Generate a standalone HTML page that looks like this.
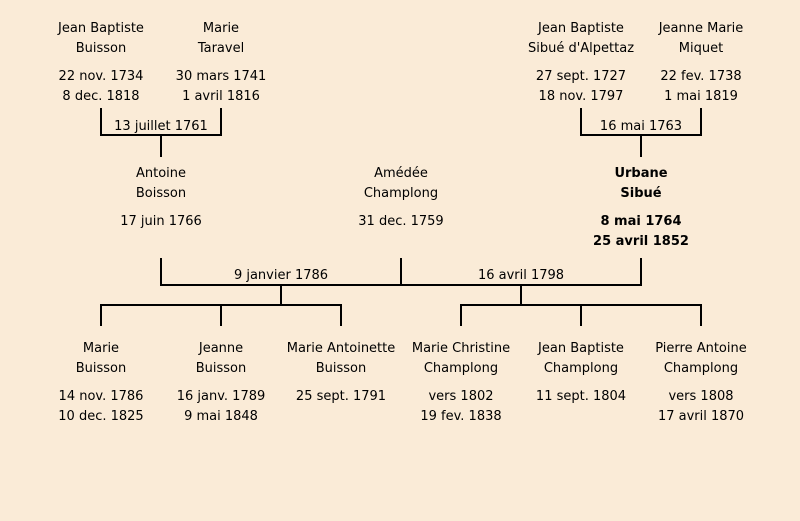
<!DOCTYPE html>
<html>
<head>
<meta charset="utf-8">
<style>
  html, body { margin:0; padding:0; background:#FAEBD7; }
  svg { display:block; }
  text { font-family: "DejaVu Sans", "Liberation Sans", sans-serif; font-size:13px; fill:#000; text-anchor:middle; }
  .b { font-weight:bold; }
</style>
</head>
<body>
<svg width="800" height="521" viewBox="0 0 800 521" xmlns="http://www.w3.org/2000/svg">
  <rect x="0" y="0" width="800" height="521" fill="#FAEBD7"/>
  <g fill="#000">
    <rect x="100" y="108" width="2" height="28"/>
    <rect x="220" y="108" width="2" height="28"/>
    <rect x="100" y="134" width="122" height="2"/>
    <rect x="160" y="136" width="2" height="21"/>
    <rect x="580" y="108" width="2" height="28"/>
    <rect x="700" y="108" width="2" height="28"/>
    <rect x="580" y="134" width="122" height="2"/>
    <rect x="640" y="136" width="2" height="21"/>
    <rect x="160" y="258" width="2" height="28"/>
    <rect x="400" y="258" width="2" height="28"/>
    <rect x="640" y="258" width="2" height="28"/>
    <rect x="160" y="284" width="482" height="2"/>
    <rect x="280" y="286" width="2" height="20"/>
    <rect x="520" y="286" width="2" height="20"/>
    <rect x="100" y="304" width="242" height="2"/>
    <rect x="460" y="304" width="242" height="2"/>
    <rect x="100" y="306" width="2" height="20"/>
    <rect x="220" y="306" width="2" height="20"/>
    <rect x="340" y="306" width="2" height="20"/>
    <rect x="460" y="306" width="2" height="20"/>
    <rect x="580" y="306" width="2" height="20"/>
    <rect x="700" y="306" width="2" height="20"/>
  </g>

  <text x="101" y="32">Jean Baptiste</text>
  <text x="101" y="52">Buisson</text>
  <text x="101" y="80">22 nov. 1734</text>
  <text x="101" y="100">8 dec. 1818</text>

  <text x="221" y="32">Marie</text>
  <text x="221" y="52">Taravel</text>
  <text x="221" y="80">30 mars 1741</text>
  <text x="221" y="100">1 avril 1816</text>

  <text x="581" y="32">Jean Baptiste</text>
  <text x="581" y="52">Sibué d'Alpettaz</text>
  <text x="581" y="80">27 sept. 1727</text>
  <text x="581" y="100">18 nov. 1797</text>

  <text x="701" y="32">Jeanne Marie</text>
  <text x="701" y="52">Miquet</text>
  <text x="701" y="80">22 fev. 1738</text>
  <text x="701" y="100">1 mai 1819</text>

  <text x="161" y="130">13 juillet 1761</text>
  <text x="641" y="130">16 mai 1763</text>

  <text x="161" y="177">Antoine</text>
  <text x="161" y="197">Boisson</text>
  <text x="161" y="225">17 juin 1766</text>

  <text x="401" y="177">Amédée</text>
  <text x="401" y="197">Champlong</text>
  <text x="401" y="225">31 dec. 1759</text>

  <text class="b" x="641" y="177">Urbane</text>
  <text class="b" x="641" y="197">Sibué</text>
  <text class="b" x="641" y="225">8 mai 1764</text>
  <text class="b" x="641" y="245">25 avril 1852</text>

  <text x="281" y="279">9 janvier 1786</text>
  <text x="521" y="279">16 avril 1798</text>

  <text x="101" y="352">Marie</text>
  <text x="101" y="372">Buisson</text>
  <text x="101" y="400">14 nov. 1786</text>
  <text x="101" y="420">10 dec. 1825</text>

  <text x="221" y="352">Jeanne</text>
  <text x="221" y="372">Buisson</text>
  <text x="221" y="400">16 janv. 1789</text>
  <text x="221" y="420">9 mai 1848</text>

  <text x="341" y="352">Marie Antoinette</text>
  <text x="341" y="372">Buisson</text>
  <text x="341" y="400">25 sept. 1791</text>

  <text x="461" y="352">Marie Christine</text>
  <text x="461" y="372">Champlong</text>
  <text x="461" y="400">vers 1802</text>
  <text x="461" y="420">19 fev. 1838</text>

  <text x="581" y="352">Jean Baptiste</text>
  <text x="581" y="372">Champlong</text>
  <text x="581" y="400">11 sept. 1804</text>

  <text x="701" y="352">Pierre Antoine</text>
  <text x="701" y="372">Champlong</text>
  <text x="701" y="400">vers 1808</text>
  <text x="701" y="420">17 avril 1870</text>
</svg>
</body>
</html>
